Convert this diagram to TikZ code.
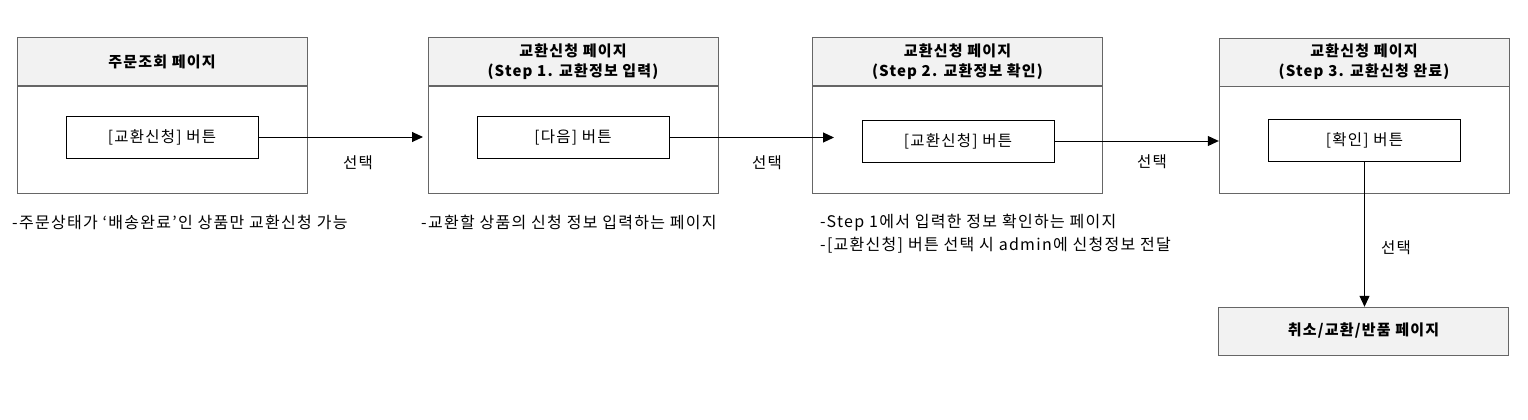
\documentclass[tikz,border=0pt]{standalone}
\usepackage{fontspec}
\setmainfont{Noto Sans CJK KR}[LetterSpace=8]
\usetikzlibrary{arrows.meta,positioning}
\definecolor{framegray}{HTML}{666666}
\definecolor{headgray}{HTML}{F2F2F2}

\begin{document}
\begin{tikzpicture}[x=1pt,y=-1pt,
  pagebody/.style={draw=framegray, fill=white, minimum width=290pt, minimum height=107pt, inner sep=0pt},
  pagehead/.style={draw=framegray, fill=headgray, minimum width=290pt, minimum height=48pt, inner sep=0pt,
    align=center, font=\bfseries\fontsize{15}{20}\selectfont},
  btn/.style={draw=black, fill=white, minimum width=192pt, minimum height=42pt, inner sep=0pt,
    font=\fontsize{15.5}{20}\selectfont},
  note/.style={anchor=west, align=left, inner sep=0pt, font=\fontsize{16}{23}\selectfont},
  sel/.style={inner sep=0pt, font=\fontsize{15.5}{20}\selectfont},
  flow/.style={draw=black, line width=1pt, -{Triangle[length=11pt,width=10pt]}}]
\useasboundingbox (0,0) rectangle (1528,420);

% page boxes
\node[pagebody] (pg1body) at (162,139.5) {};
\node[pagehead, above=0pt of pg1body] (pg1head) {주문조회 페이지};
\node[pagebody] (pg2body) at (573,139.5) {};
\node[pagehead, above=0pt of pg2body] (pg2head) {교환신청 페이지\\(Step 1. 교환정보 입력)};
\node[pagebody] (pg3body) at (957.5,139.5) {};
\node[pagehead, above=0pt of pg3body] (pg3head) {교환신청 페이지\\(Step 2. 교환정보 확인)};
\node[pagebody] (pg4body) at (1364,140) {};
\node[pagehead, above=0pt of pg4body] (pg4head) {교환신청 페이지\\(Step 3. 교환신청 완료)};
\node[pagehead] (cancel) at (1363.5,331) {취소/교환/반품 페이지};

% buttons
\node[btn] (btn1) at (162,137) {[교환신청] 버튼};
\node[btn] (btn2) at (573,137.5) {[다음] 버튼};
\node[btn] (btn3) at (958,141) {[교환신청] 버튼};
\node[btn] (btn4) at (1364.5,140.5) {[확인] 버튼};

% arrows
\coordinate (tip1) at (423,138);
\coordinate (tip2) at (834,140);
\draw[flow] (btn1.east) -- (btn1.east -| tip1);
\draw[flow] (btn2.east) -- (btn2.east -| tip2);
\draw[flow] (btn3.east) -- (btn3.east -| pg4body.west);
\draw[flow] (btn4.south) -- (btn4.south |- cancel.north);

% labels
\node[sel] (sel1) at (358,163) {선택};
\node[sel] (sel2) at (767,163) {선택};
\node[sel] (sel3) at (1152,162) {선택};
\node[sel] (sel4) at (1396,248) {선택};

% notes
\node[note] (note1) at (12,222) {-주문상태가 ‘배송완료’인 상품만 교환신청 가능};
\node[note] (note2) at (421,222) {-교환할 상품의 신청 정보 입력하는 페이지};
\node[note, anchor=north west] (note3) at (820,214) {-Step 1에서 입력한 정보 확인하는 페이지\\-[교환신청] 버튼 선택 시 admin에 신청정보 전달};
\end{tikzpicture}
\end{document}
